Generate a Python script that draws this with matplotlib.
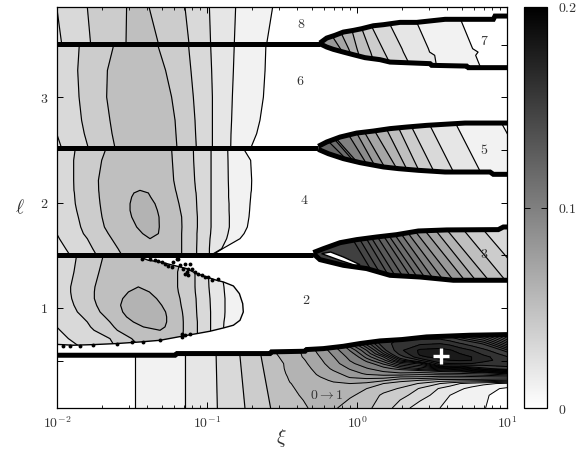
import numpy as np
import matplotlib
matplotlib.use('Agg')
import matplotlib.pyplot as plt
from matplotlib.cm import ScalarMappable
from matplotlib.colors import Normalize
from matplotlib.patches import Polygon
from matplotlib.ticker import FixedLocator, NullFormatter

plt.rcParams['mathtext.fontset'] = 'cm'

# contour levels: 0.01 apart, 0.005 apart between 0.11 and 0.15, grey taken from the lower bound
levels = [0.0, 0.01, 0.02, 0.03, 0.04, 0.05, 0.06, 0.07, 0.08, 0.09, 0.10, 0.11,
          0.115, 0.12, 0.125, 0.13, 0.135, 0.14, 0.145, 0.15, 0.16,
          0.17, 0.18, 0.19, 0.2]
fills = [str(round(1 - lev / 0.2, 3)) for lev in levels[:-1]]

# everything below is log10(xi), one row per ell
# top strip, 3.5 < ell
ell_a = [3.86, 3.509]
lxi_a = [[-2.1, -2.002, -1.798, -1.536, -1.46, -1.387, -1.147, -0.984, -0.809, -0.562, 1.05],
         [-2.1, -1.969, -1.776, -1.54, -1.43, -1.324, -1.12, -0.976, -0.818, -0.602, 1.05]]
z_a = [0.025, 0.03, 0.04, 0.05, 0.055, 0.05, 0.04, 0.03, 0.02, 0.01, 0.002]

# 2.5 < ell < 3.5
ell_c = [3.509, 3.256, 3.003, 2.782, 2.655, 2.516]
lxi_c = [[-2.3, -2.113, -1.851, -1.62, -1.476, -1.331, -1.124, -0.976, -0.818, -0.607, 1.05],
         [-2.3, -2.113, -1.862, -1.664, -1.469, -1.276, -1.107, -0.969, -0.824, -0.613, 1.05],
         [-2.3, -2.113, -1.853, -1.669, -1.453, -1.236, -1.091, -0.964, -0.831, -0.624, 1.05],
         [-2.3, -2.047, -1.836, -1.647, -1.429, -1.213, -1.08, -0.964, -0.836, -0.647, 1.05],
         [-2.3, -2.002, -1.818, -1.633, -1.42, -1.207, -1.076, -0.964, -0.84, -0.669, 1.05],
         [-2.3, -1.969, -1.791, -1.613, -1.407, -1.2, -1.071, -0.964, -0.842, -0.709, 1.05]]
z_c = [0.025, 0.03, 0.04, 0.05, 0.055, 0.05, 0.04, 0.03, 0.02, 0.01, 0.002]

# 1.5 < ell < 2.5, with the closed eye in the middle
ell_d = [2.516, 2.402, 2.212, 2.117, 2.092, 2.054, 1.99, 1.927, 1.864, 1.769, 1.706, 1.658, 1.563, 1.5]
lxi_d = [[-2.3, -2.113, -1.878, -1.673, -1.513, -1.424, -1.336, -1.236, -1.091, -0.973, -0.862, -0.758, 1.05],
         [-2.3, -2.113, -1.889, -1.702, -1.513, -1.424, -1.336, -1.231, -1.089, -0.973, -0.86, -0.709, 1.05],
         [-2.3, -2.113, -1.889, -1.724, -1.513, -1.436, -1.336, -1.222, -1.082, -0.973, -0.858, -0.702, 1.05],
         [-2.3, -2.113, -1.887, -1.722, -1.48, -1.447, -1.402, -1.209, -1.076, -0.973, -0.856, -0.704, 1.05],
         [-2.3, -2.109, -1.884, -1.72, -1.487, -1.44, -1.391, -1.204, -1.073, -0.973, -0.856, -0.707, 1.05],
         [-2.3, -2.102, -1.882, -1.718, -1.502, -1.436, -1.376, -1.198, -1.071, -0.973, -0.856, -0.709, 1.05],
         [-2.3, -2.091, -1.878, -1.713, -1.513, -1.424, -1.347, -1.187, -1.069, -0.973, -0.853, -0.713, 1.05],
         [-2.3, -2.069, -1.869, -1.707, -1.513, -1.413, -1.331, -1.178, -1.067, -0.973, -0.853, -0.716, 1.05],
         [-2.3, -2.047, -1.858, -1.7, -1.502, -1.402, -1.32, -1.169, -1.064, -0.973, -0.851, -0.72, 1.05],
         [-2.3, -2.024, -1.842, -1.684, -1.469, -1.391, -1.318, -1.167, -1.064, -0.973, -0.851, -0.731, 1.05],
         [-2.3, -2.002, -1.824, -1.658, -1.429, -1.38, -1.324, -1.169, -1.067, -0.976, -0.86, -0.753, 1.05],
         [-2.3, -1.984, -1.798, -1.636, -1.402, -1.38, -1.351, -1.169, -1.067, -0.98, -0.869, -0.78, 1.05],
         [-2.3, -1.942, -1.762, -1.593, -1.424, -1.38, -1.336, -1.169, -1.069, -0.984, -0.902, -0.896, 1.05],
         [-2.3, -1.913, -1.736, -1.567, -1.424, -1.38, -1.336, -1.169, -1.069, -0.984, -0.976, -0.967, 1.05]]
eye_d = [[0.055, 0.055, 0.055], [0.055, 0.055, 0.055], [0.055, 0.055, 0.055],
         [0.057, 0.06, 0.057], [0.06, 0.0625, 0.06], [0.06, 0.065, 0.06], [0.06, 0.065, 0.06],
         [0.06, 0.065, 0.06], [0.06, 0.065, 0.06], [0.06, 0.065, 0.06], [0.06, 0.065, 0.06],
         [0.058, 0.06, 0.058], [0.055, 0.055, 0.055], [0.055, 0.055, 0.055]]

# lobe under ell = 1.5
ell_e = [1.503, 1.342, 1.2, 1.152, 1.089, 1.026, 0.962, 0.915, 0.867, 0.82, 0.788, 0.709, 0.63]
lxi_e = [[-2.3, -2.113, -1.869, -1.691, -1.536, -1.424, -1.313, -1.169, -1.069, -0.98, -0.896, -0.3],
         [-2.3, -2.113, -1.887, -1.72, -1.536, -1.424, -1.313, -1.196, -1.08, -0.991, -0.902, -0.3],
         [-2.3, -2.113, -1.909, -1.747, -1.469, -1.458, -1.436, -1.196, -1.08, -0.987, -0.887, -0.3],
         [-2.3, -2.113, -1.909, -1.751, -1.524, -1.447, -1.384, -1.191, -1.078, -0.984, -0.884, -0.3],
         [-2.3, -2.113, -1.902, -1.751, -1.562, -1.424, -1.336, -1.18, -1.073, -0.98, -0.88, -0.3],
         [-2.3, -2.113, -1.887, -1.736, -1.576, -1.424, -1.302, -1.173, -1.071, -0.978, -0.88, -0.3],
         [-2.3, -2.113, -1.864, -1.713, -1.562, -1.424, -1.276, -1.164, -1.069, -0.976, -0.88, -0.3],
         [-2.3, -2.08, -1.831, -1.68, -1.536, -1.391, -1.269, -1.16, -1.067, -0.976, -0.882, -0.3],
         [-2.3, -2.047, -1.798, -1.647, -1.491, -1.38, -1.269, -1.158, -1.064, -0.976, -0.887, -0.3],
         [-2.3, -2.002, -1.776, -1.62, -1.424, -1.336, -1.28, -1.158, -1.064, -0.976, -0.889, -0.3],
         [-2.3, -1.98, -1.753, -1.598, -1.336, -1.313, -1.291, -1.158, -1.064, -0.976, -0.891, -0.3],
         [-2.3, -1.924, -1.647, -1.502, -1.38, -1.313, -1.247, -1.162, -1.064, -0.976, -0.891, -0.3],
         [-2.3, -1.847, -1.613, -1.447, -1.38, -1.313, -1.247, -1.162, -1.064, -0.976, -0.891, -0.3]]
eye_e = [[0.055, 0.055, 0.055], [0.055, 0.055, 0.055], [0.058, 0.06, 0.058], [0.06, 0.065, 0.06],
         [0.06, 0.065, 0.06], [0.06, 0.065, 0.06], [0.06, 0.065, 0.06], [0.06, 0.065, 0.06],
         [0.06, 0.065, 0.06], [0.06, 0.065, 0.06], [0.058, 0.06, 0.058], [0.054, 0.054, 0.054],
         [0.052, 0.052, 0.052]]
lobe_lxi = [-2.013, -1.436, -1.436, -1.391, -1.313, -1.224, -1.136, -1.069, -1.002, -0.936, -0.891,
            -0.824, -0.784, -0.762, -0.758, -0.78, -0.824, -0.891, -0.98, -1.069, -1.158, -1.313,
            -1.447, -1.602, -1.758, -1.891, -2.013]
lobe_ell = [1.516, 1.516, 1.478, 1.453, 1.437, 1.405, 1.374, 1.326, 1.294, 1.263, 1.247,
            1.209, 1.136, 1.041, 0.962, 0.883, 0.836, 0.81, 0.779, 0.756, 0.734, 0.693,
            0.677, 0.662, 0.652, 0.646, 0.655]
noise_lxi = [-1.436, -1.38, -1.324, -1.28, -1.236, -1.191, -1.18, -1.158, -1.136, -1.113, -1.08,
             -1.036, -0.991, -0.924, -1.202, -1.224, -1.147, -1.124, -1.147, -1.102, -1.124, -1.058,
             -1.013, -0.969, -1.347, -1.302, -1.258,
             -1.958, -1.913, -1.847, -1.758, -1.602, -1.502, -1.424, -1.313, -1.169, -1.147, -1.169, -1.113]
noise_ell = [1.468, 1.462, 1.446, 1.421, 1.389, 1.462, 1.405, 1.373, 1.342, 1.421, 1.342,
             1.317, 1.294, 1.279, 1.468, 1.437, 1.421, 1.373, 1.326, 1.373, 1.31, 1.326,
             1.294, 1.263, 1.453, 1.437, 1.399,
             0.639, 0.64, 0.639, 0.646, 0.662, 0.677, 0.677, 0.693, 0.725, 0.741, 0.756, 0.756]

# wedge around ell = 3.5 (label 7)
ell_w7 = [3.794, 3.462, 3.43, 3.399, 3.272]
lxi_w7 = [[-0.5, -0.262, -0.167, -0.064, -0.005, 0.056, 0.184, 0.373, 0.675, 1.05],
          [-0.5, -0.111, -0.056, 0.0, 0.082, 0.171, 0.3, 0.476, 0.771, 1.05],
          [-0.5, -0.096, -0.047, 0.007, 0.091, 0.182, 0.309, 0.484, 0.807, 1.05],
          [-0.5, -0.082, -0.036, 0.013, 0.098, 0.193, 0.32, 0.518, 0.791, 1.05],
          [-0.5, -0.024, 0.007, 0.038, 0.131, 0.238, 0.364, 0.533, 0.827, 1.05]]
z_w7 = [0.09, 0.08, 0.07, 0.06, 0.05, 0.04, 0.03, 0.02, 0.01, 0.002]
up7_lxi = [-0.247, -0.202, -0.147, -0.091, -0.024, 0.031, 0.109, 0.176, 0.287, 0.398, 0.587, 0.909, 0.92, 1.0]
up7_ell = [3.516, 3.563, 3.589, 3.62, 3.636, 3.652, 3.68, 3.69, 3.712, 3.712, 3.741, 3.741, 3.772, 3.772]
lo7_lxi = [-0.247, -0.202, -0.158, -0.091, -0.024, 0.053, 0.153, 0.22, 0.487, 0.498, 0.731, 0.742, 1.0]
lo7_ell = [3.509, 3.478, 3.456, 3.43, 3.405, 3.377, 3.358, 3.335, 3.32, 3.304, 3.297, 3.282, 3.282]

# wedge around ell = 2.5 (label 5)
ell_w5 = [2.782, 2.244]
lxi_w5 = [[-0.5, -0.331, -0.26, -0.247, -0.116, -0.049, 0.004, 0.076, 0.167, 0.253, 0.342, 0.469, 0.647, 0.953, 1.3],
          [-0.5, 0.047, 0.069, 0.089, 0.118, 0.16, 0.222, 0.298, 0.358, 0.433, 0.531, 0.66, 0.84, 1.16, 1.3]]
z_w5 = [0.125, 0.12, 0.115, 0.11, 0.10, 0.09, 0.08, 0.07, 0.06, 0.05, 0.04, 0.03, 0.02, 0.01, 0.005]
up5_lxi = [-0.258, -0.202, -0.113, -0.002, 0.109, 0.22, 0.331, 0.464, 0.72, 1.0]
up5_ell = [2.535, 2.576, 2.623, 2.661, 2.68, 2.703, 2.718, 2.734, 2.756, 2.756]
lo5_lxi = [-0.258, -0.191, -0.091, 0.02, 0.176, 0.276, 0.409, 0.587, 0.887, 0.909, 1.0]
lo5_ell = [2.506, 2.465, 2.418, 2.38, 2.339, 2.323, 2.307, 2.291, 2.291, 2.269, 2.269]

# wedge around ell = 1.5 (label 3)
ell_w3 = [1.816, 1.2466]
lxi_w3 = [[-0.5, -0.098, -0.051, -0.004, 0.031, 0.073, 0.116, 0.151, 0.193, 0.238,
           0.285, 0.34, 0.407, 0.48, 0.556, 0.667, 0.798, 1.3],
          [-0.5, 0.142, 0.189, 0.236, 0.28, 0.329, 0.38, 0.424, 0.473, 0.524,
           0.585, 0.651, 0.727, 0.8, 0.887, 0.998, 1.14, 1.3]]
z_w3 = [0.155, 0.15, 0.145, 0.14, 0.135, 0.13, 0.125, 0.12, 0.115, 0.11,
        0.10, 0.09, 0.08, 0.07, 0.06, 0.05, 0.04, 0.035]
up3_lxi = [-0.291, -0.224, -0.113, -0.002, 0.131, 0.264, 0.409, 0.598, 0.942, 0.976, 1.0]
up3_ell = [1.526, 1.563, 1.62, 1.649, 1.674, 1.696, 1.731, 1.741, 1.744, 1.769, 1.769]
lo3_lxi = [-0.291, -0.247, -0.091, 0.064, 0.22, 0.42, 0.642, 1.0]
lo3_ell = [1.516, 1.459, 1.405, 1.374, 1.31, 1.294, 1.263, 1.263]
sliver_lxi = [-0.236, -0.176, -0.091, 0.02, -0.013, -0.113]
sliver_ell = [1.516, 1.531, 1.484, 1.411, 1.405, 1.452]

# 0 -> 1 band, left part
ell_b0 = [0.6, 0.05]
lxi_b0 = [[-2.1, -1.48, -1.147, -0.94, -0.784, -0.647, -0.536],
          [-2.1, -1.48, -1.147, -0.931, -0.747, -0.576, -0.536]]
z_b0 = [[0.005, 0.01, 0.02, 0.03, 0.04, 0.05, 0.06],
        [0.005, 0.01, 0.02, 0.03, 0.04, 0.05, 0.051]]

# 0 -> 1 band, right part: one list per xi column, top row first
ell_b1 = [0.788, 0.725, 0.661, 0.598, 0.566, 0.535, 0.503, 0.472, 0.424, 0.377, 0.345, 0.313, 0.282, 0.234, 0.171, 0.05]
lxi_b1 = [-0.536, -0.447, -0.358, -0.269, -0.158, -0.047, 0.064, 0.176, 0.287, 0.42, 0.487, 0.553, 0.62, 0.687, 0.764, 0.842, 1.009]
z_b1 = [[.06, .06, .06, .06, .06, .059, .058, .057, .057, .056, .056, .055, .055, .054, .053, .051],
        [.067, .067, .067, .066, .0655, .065, .064, .063, .0625, .062, .061, .0605, .0597, .059, .058, .056],
        [.074, .074, .073, .072, .071, .0705, .069, .068, .066, .065, .064, .0635, .063, .062, .061, .0585],
        [.085, .084, .083, .081, .0795, .078, .0765, .075, .073, .0705, .069, .068, .0675, .066, .065, .063],
        [.108, .105, .101, .095, .092, .0895, .0875, .086, .082, .077, .074, .071, .069, .067, .064, .0615],
        [.14, .132, .12, .1105, .107, .1035, .1005, .0975, .091, .085, .081, .076, .07, .066, .0615, .055],
        [.148, .145, .137, .125, .121, .117, .112, .107, .099, .092, .084, .0758, .068, .06, .056, .052],
        [.154, .157, .155, .147, .14, .13, .123, .116, .1075, .095, .085, .072, .06, .054, .048, .045],
        [.155, .16, .166, .168, .163, .155, .143, .13, .113, .098, .08, .063, .056, .049, .043, .035],
        [.15, .155, .168, .182, .182, .178, .16, .137, .12, .095, .079, .06, .049, .039, .035, .024],
        [.148, .155, .169, .183, .184, .181, .172, .15, .123, .096, .078, .058, .045, .034, .03, .022],
        [.145, .155, .17, .184, .185, .184, .178, .168, .127, .098, .076, .055, .04, .029, .026, .02],
        [.138, .15, .167, .181, .1835, .184, .18, .17, .13, .098, .076, .055, .035, .025, .02, .016],
        [.13, .143, .161, .1755, .18, .182, .181, .171, .132, .099, .076, .0545, .03, .0215, .016, .012],
        [.122, .137, .155, .17, .175, .18, .18, .17, .14, .101, .077, .054, .026, .017, .013, .011],
        [.115, .132, .149, .163, .168, .173, .173, .167, .147, .103, .078, .053, .0225, .013, .011, .0105],
        [.09, .105, .125, .145, .153, .16, .164, .1645, .157, .113, .08, .05, .017, .008, .006, .004]]
top_b_lxi = [-2.0, -1.213, -1.2, -0.58, -0.57, -0.347, -0.336, -0.224, -0.091, 0.02, 0.153, 0.3, 0.464, 0.753, 1.0]
top_b_ell = [0.551, 0.551, 0.567, 0.567, 0.583, 0.589, 0.605, 0.614, 0.636, 0.662, 0.687, 0.7, 0.725, 0.741, 0.747]

# flat thick lines before each wedge opens: ell, log10(xi) of the end
flat_ell = [3.509, 2.516, 1.503]
flat_end = [-0.247, -0.258, -0.291]

# labels
label_text = ['8', '7', '6', '5', '4', '3', '2', r'0 \rightarrow 1']
label_lxi = [-0.369, 0.849, -0.38, 0.847, -0.353, 0.851, -0.336, -0.202]
label_ell = [3.693, 3.532, 3.152, 2.503, 2.028, 1.516, 1.073, 0.171]
peak_lxi = 0.56
peak_ell = 0.545

fig = plt.figure(figsize=(5.81, 4.5), dpi=100)
ax = fig.add_axes([57 / 581, 42 / 450, 450 / 581, 401 / 450])
ax.set_xscale('log')


def region(lxi, ell, z, clip=None, lw=0.85):
    x = 10.0 ** np.array(lxi)
    y = np.array(ell, dtype=float)
    if x.ndim == 1:
        x = np.tile(x, (len(y), 1))
    y = np.tile(y[:, None], (1, x.shape[1]))
    z = np.array(z, dtype=float)
    if z.ndim == 1:
        z = np.tile(z, (x.shape[0], 1))
    cf = ax.contourf(x, y, z, levels=levels, colors=fills, zorder=1)
    cl = ax.contour(x, y, z, levels=levels[1:-1], colors='k', linewidths=lw, zorder=1.5)
    if clip is not None:
        patch = Polygon(np.column_stack([10.0 ** np.array(clip[0]), clip[1]]), transform=ax.transData)
        cf.set_clip_path(patch)
        cl.set_clip_path(patch)


def thick(lxi, ell):
    ax.plot(10.0 ** np.array(lxi), ell, color='k', lw=3.6, solid_capstyle='butt',
            solid_joinstyle='miter', zorder=3)


region(lxi_a, ell_a, z_a)
region(lxi_c, ell_c, z_c)

z_d = [[0.025, 0.03, 0.04, 0.05] + eye + [0.05, 0.04, 0.03, 0.02, 0.01, 0.002] for eye in eye_d]
region(lxi_d, ell_d, z_d)

z_e = [[0.025, 0.03, 0.04, 0.05] + eye + [0.05, 0.04, 0.03, 0.02, 0.012] for eye in eye_e]
region(lxi_e, ell_e, z_e, clip=(lobe_lxi, lobe_ell))
ax.plot(10.0 ** np.array(lobe_lxi[2:]), lobe_ell[2:], color='k', lw=1.0, zorder=2)
ax.plot(10.0 ** np.array(noise_lxi), noise_ell, ls='none', marker='o', ms=2.8, mew=0, color='k', zorder=2)

region(lxi_w7, ell_w7, z_w7, clip=(up7_lxi + lo7_lxi[::-1], up7_ell + lo7_ell[::-1]))
region(lxi_w5, ell_w5, z_w5, clip=(up5_lxi + lo5_lxi[::-1], up5_ell + lo5_ell[::-1]))
region(lxi_w3, ell_w3, z_w3, clip=(up3_lxi + lo3_lxi[::-1], up3_ell + lo3_ell[::-1]))
ax.fill(10.0 ** np.array(sliver_lxi), sliver_ell, facecolor='white', edgecolor='k', lw=1.0, zorder=2)

band_clip = (top_b_lxi + [1.0, -2.0], top_b_ell + [0.0, 0.0])
region(lxi_b0, ell_b0, z_b0, clip=band_clip)
region(lxi_b1, ell_b1, np.array(z_b1).T, clip=band_clip, lw=0.7)

for e, end in zip(flat_ell, flat_end):
    thick([-2.0, end], [e, e])
thick(up7_lxi, up7_ell)
thick(lo7_lxi, lo7_ell)
thick(up5_lxi, up5_ell)
thick(lo5_lxi, lo5_ell)
thick(up3_lxi, up3_ell)
thick(lo3_lxi, lo3_ell)
thick(top_b_lxi, top_b_ell)

for t, lx, e in zip(label_text, label_lxi, label_ell):
    ax.text(10.0 ** lx, e, '$' + t + '$', fontsize=10, color='#333333', ha='center', va='center', zorder=4)
ax.plot([10.0 ** peak_lxi], [peak_ell], marker='+', ms=11, mew=2.4, color='white', zorder=5)

ax.set_xlim(0.01, 10)
ax.set_ylim(0.05, 3.858)
ax.set_yticks([0.5, 1, 1.5, 2, 2.5, 3, 3.5])
ax.set_yticklabels(['', '$1$', '', '$2$', '', '$3$', ''])
ax.set_xticks([0.01, 0.1, 1, 10])
ax.set_xticklabels(['$10^{-2}$', '$10^{-1}$', '$10^{0}$', '$10^{1}$'])
ax.xaxis.set_minor_locator(FixedLocator([m * d for d in (0.01, 0.1, 1) for m in range(2, 10)]))
ax.xaxis.set_minor_formatter(NullFormatter())
ax.tick_params(axis='both', which='major', direction='in', top=True, right=True, length=4, width=0.7,
               labelsize=10, labelcolor='#333333')
ax.tick_params(axis='x', which='minor', direction='in', top=True, length=2, width=0.6)
ax.tick_params(axis='x', which='major', pad=5)
ax.tick_params(axis='y', which='major', pad=6.5)
for s in ax.spines.values():
    s.set_linewidth(0.9)
    s.set_zorder(6)
ax.set_xlabel(r'$\xi$', fontsize=14, color='#333333', va='center', ha='center')
ax.xaxis.set_label_coords(0.498, -0.075)
ax.set_ylabel(r'$\ell$', fontsize=14, rotation=0, color='#333333', va='center', ha='center')
ax.yaxis.set_label_coords(-0.082, 0.499)

cax = fig.add_axes([523.5 / 581, 42 / 450, 23.5 / 581, 401 / 450])
cb = fig.colorbar(ScalarMappable(Normalize(0, 0.2), cmap='gray_r'), cax=cax)
cb.set_ticks([0, 0.1, 0.2])
cb.set_ticklabels(['$0$', '$0.1$', '$0.2$'])
cb.outline.set_linewidth(0.9)
cax.tick_params(which='both', direction='in', left=True, right=True, length=4, width=0.7, color='k',
                labelsize=10, labelcolor='#333333', pad=8)

fig.savefig('out.png', dpi=100)
